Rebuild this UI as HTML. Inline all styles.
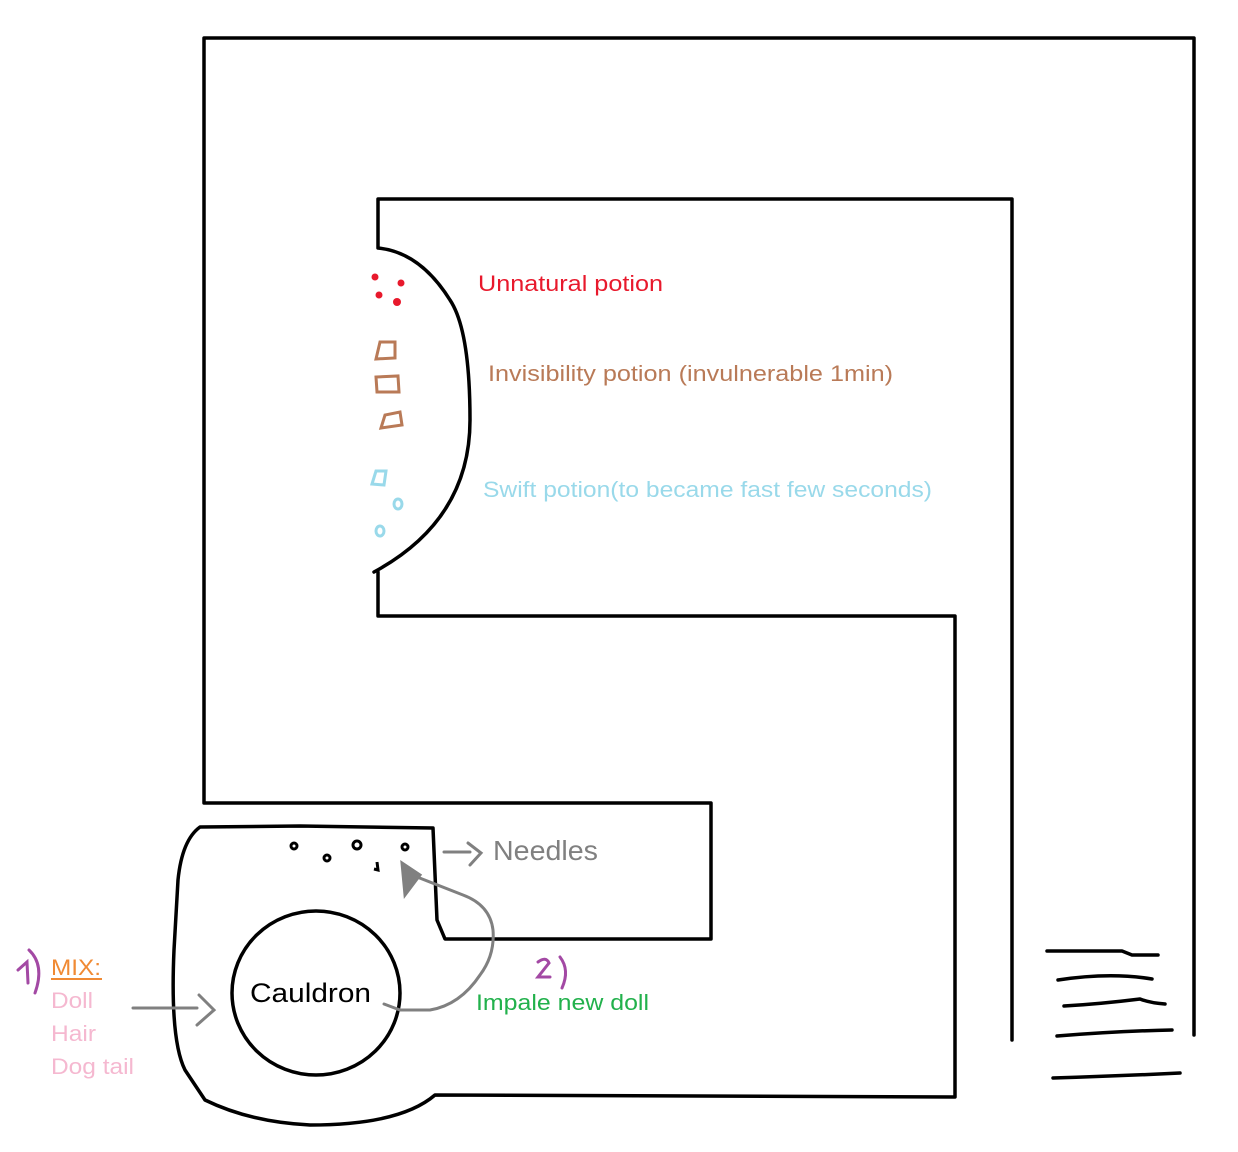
<!DOCTYPE html>
<html><head><meta charset="utf-8"><style>
html,body{margin:0;padding:0;background:#fff;}
svg{display:block}
text{font-family:"Liberation Sans",sans-serif;}
</style></head><body>
<svg width="1238" height="1152" viewBox="0 0 1238 1152" xmlns="http://www.w3.org/2000/svg">
<g fill="none" stroke="#000" stroke-width="3.5" stroke-linejoin="round" stroke-linecap="round">
<path d="M1194,1035 L1194,38 L204,38 L204,803 L711,803 L711,939 L445,939 L437,920 L433,828 L300,826 L200,827 Q182,840 178,880 L174,950 Q170,1040 185,1070 L205,1100 Q250,1122 310,1125 Q400,1125 435,1095 L955,1097 L955,616 L378,616 L378,572"/>
<path d="M374,572 Q470,520 470,420 Q470,330 450,300 Q420,252 378,248 L378,199 L1012,199 L1012,1040"/>
<ellipse cx="316" cy="993" rx="84" ry="82"/>
<path d="M1047,951 L1122,951 L1132,955 L1158,955"/>
<path d="M1058,980 Q1110,972 1152,979"/>
<path d="M1064,1006 Q1100,1004 1140,999 Q1150,1003 1165,1004"/>
<path d="M1057,1036 Q1120,1031 1172,1030"/>
<path d="M1053,1078 Q1120,1076 1180,1073"/>
</g>
<g fill="none" stroke="#000" stroke-width="3">
<circle cx="294" cy="846" r="3"/><circle cx="327" cy="858" r="3"/><circle cx="357" cy="845" r="4"/><circle cx="405" cy="847" r="3"/><path d="M377,862 L378,870 L374,869"/>
</g>
<g fill="#e8192c"><circle cx="375" cy="277" r="3.5"/><circle cx="401" cy="283" r="3.5"/><circle cx="379" cy="295" r="3.5"/><circle cx="397" cy="302" r="4"/></g>
<g fill="none" stroke="#b97a57" stroke-width="3"><path d="M376,359 L380,342 L395,342 L395,358 Z"/><path d="M376,377 L398,376 L399,392 L377,392 Z"/><path d="M381,428 L385,415 L400,412 L402,425 Z"/></g>
<g fill="none" stroke="#99d9ea" stroke-width="3"><path d="M372,484 L376,471 L386,471 L384,485 Z"/><ellipse cx="398" cy="504" rx="4" ry="5"/><ellipse cx="380" cy="531" rx="4" ry="5"/></g>
<g fill="none" stroke="#808080" stroke-width="3" stroke-linecap="round">
<path d="M133,1008 L197,1008"/><path d="M199,995 L214,1010 L197,1025"/>
<path d="M444,852 L470,852"/><path d="M468,843 L481,853 L470,865"/>
<path d="M384,1004 L400,1010 L430,1010 Q460,1005 480,975 Q495,955 493,930 Q490,905 463,895 L412,875"/>
<path d="M402,863 L405,895 L420,875 Z" fill="#808080"/>
</g>
<g fill="none" stroke="#a349a4" stroke-width="3" stroke-linecap="round">
<path d="M18,970 L27,962 L28,983"/><path d="M29,950 Q45,965 35,993"/>
<path d="M538,962 Q546,956 549,963 L538,977 L550,977"/><path d="M560,957 Q570,970 562,988"/>
</g>
<text x="478" y="291" font-size="22" fill="#e8192c" textLength="185" lengthAdjust="spacingAndGlyphs">Unnatural potion</text>
<text x="488" y="381" font-size="22" fill="#b97a57" textLength="405" lengthAdjust="spacingAndGlyphs">Invisibility potion  (invulnerable 1min)</text>
<text x="483" y="497" font-size="22" fill="#99d9ea" textLength="449" lengthAdjust="spacingAndGlyphs">Swift potion(to became fast  few seconds)</text>
<text x="493" y="860" font-size="28" fill="#808080" textLength="105" lengthAdjust="spacingAndGlyphs">Needles</text>
<text x="250" y="1002" font-size="27" fill="#000" textLength="121" lengthAdjust="spacingAndGlyphs">Cauldron</text>
<text x="476" y="1010" font-size="22" fill="#22b14c" textLength="173" lengthAdjust="spacingAndGlyphs">Impale new doll</text>
<text x="51" y="975" font-size="22" fill="#f08a34" textLength="50" lengthAdjust="spacingAndGlyphs">MIX:</text>
<path d="M51,979 L102,979" stroke="#f08a34" stroke-width="2"/>
<text x="51" y="1008" font-size="22" fill="#f5b8d0" textLength="42" lengthAdjust="spacingAndGlyphs">Doll</text>
<text x="51" y="1041" font-size="22" fill="#f5b8d0" textLength="45" lengthAdjust="spacingAndGlyphs">Hair</text>
<text x="51" y="1074" font-size="22" fill="#f5b8d0" textLength="83" lengthAdjust="spacingAndGlyphs">Dog tail</text>
</svg>
</body></html>
